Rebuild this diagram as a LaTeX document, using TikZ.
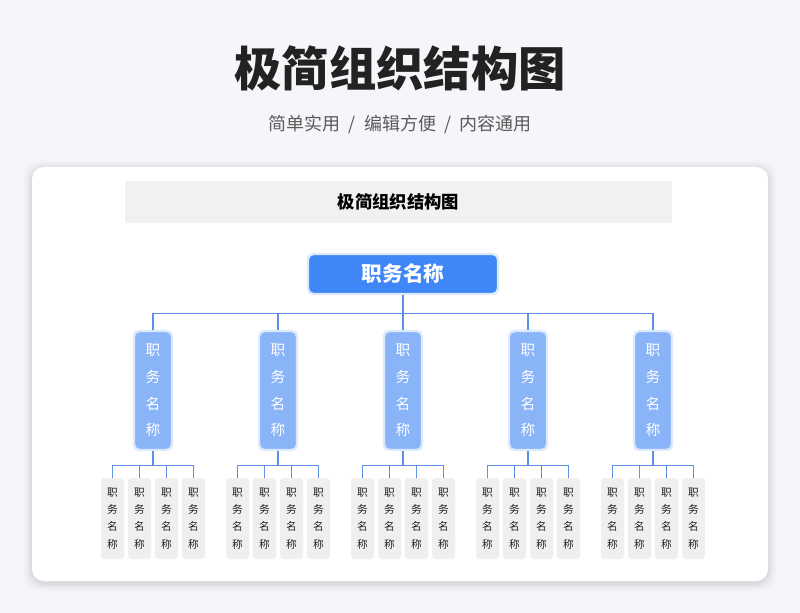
\documentclass[tikz,border=0pt]{standalone}
\usepackage{fontspec}
\setmainfont{Noto Sans CJK SC}
\usetikzlibrary{positioning,calc}
\definecolor{pagebg}{HTML}{F4F6F9}
\definecolor{titleink}{HTML}{222222}
\definecolor{subink}{HTML}{5A5A5A}
\definecolor{bandgray}{HTML}{F1F1F1}
\definecolor{topblue}{HTML}{3F87F6}
\definecolor{midblue}{HTML}{8AB4F8}
\definecolor{glow}{HTML}{DCE9FD}
\definecolor{linkblue}{HTML}{5C90E6}
\definecolor{leafgray}{HTML}{EFEFEF}
\tikzset{topbox/.style={draw=glow,line width=1.8pt,fill=topblue,rounded corners=4pt,minimum width=190*.75pt,minimum height=40*.75pt,text=white,font=\bfseries\fontsize{15.5}{18}\selectfont,inner sep=0pt},midbox/.style={draw=glow,line width=1.8pt,fill=midblue,rounded corners=4pt,minimum width=38*.75pt,minimum height=119*.75pt,text=white,align=center,font=\fontsize{11}{20}\selectfont,inner sep=0pt},leafbox/.style={fill=leafgray,rounded corners=2.5pt,minimum width=23*.75pt,minimum height=81*.75pt,text=titleink,align=center,font=\fontsize{8}{13}\selectfont,inner sep=0pt},link/.style={draw=linkblue,line width=.9pt}}

\begin{document}
\begin{tikzpicture}[x=.75pt,y=-.75pt]

\useasboundingbox (0,0) rectangle (800,613);
\fill[pagebg] (0,0) rectangle (800,613);
% card with a soft shadow
\foreach \s/\o in {8/.015,6/.02,4/.03,2/.035} \fill[black,opacity=\o,rounded corners=12pt] (32-\s,167-\s+2) rectangle (768+\s,581+\s+2);
\fill[white,rounded corners=9pt] (32,167) rectangle (768,581);
\node[font=\bfseries\fontsize{35.5}{40}\selectfont,text=titleink] (title) at (400,68) {极简组织结构图};
\node[font=\fontsize{13.5}{16}\selectfont,text=subink] (subtitle) at (400,124) {简单实用 \ / \ 编辑方便 \ / \ 内容通用};
\node[fill=bandgray,minimum width=547*.75pt,minimum height=42*.75pt,inner sep=0pt,font=\bfseries\fontsize{13}{16}\selectfont,text=black] (band) at (398.5,202) {极简组织结构图};
\node[topbox] (top) at (403,274) {职务名称};
\foreach \i/\x in {1/153,2/278,3/403,4/528,5/653}{
  \node[midbox] (mid\i) at (\x,390.5) {职\\务\\名\\称};
  \draw[link] (top.south) -- ++(0,18) -| (mid\i.north);
  \foreach \j/\d in {1/-40.5,2/-13.5,3/13.5,4/40.5}{
    \node[leafbox] (leaf\i\j) at (\x+\d,518.5) {职\\务\\名\\称};
    \draw[link] (mid\i.south) -- ++(0,14.5) -| (leaf\i\j.north);
  }
}
\end{tikzpicture}
\end{document}
